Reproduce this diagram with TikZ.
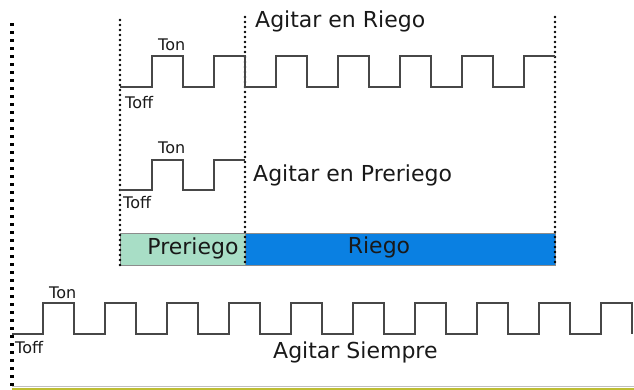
\documentclass[tikz,border=0pt]{standalone}
\usepackage{fontspec}
\setmainfont{DejaVu Sans}
\begin{document}
\begin{tikzpicture}[x=1pt,y=-1pt,
  wave/.style={line width=1.8pt,draw=black!72,line join=miter},
  bigdots/.style={line width=3.6pt,draw=black,dash pattern=on 3.2pt off 4.8pt},
  smalldots/.style={line width=2.8pt,draw=black,line cap=round,dash pattern=on 0pt off 5pt},
  phase/.style={draw=black!45,line width=0.8pt},
  big/.style={inner sep=0pt,font=\fontsize{22}{24}\selectfont,text=black!90},
  small/.style={inner sep=0pt,font=\fontsize{16}{18}\selectfont,text=black!90}]
\useasboundingbox (0,0) rectangle (634,389);
% phase boxes
\fill[fill={rgb,255:red,168;green,222;blue,198}] (120,233) rectangle (245,265);
\fill[fill={rgb,255:red,10;green,128;blue,226}] (245,233) rectangle (555,265);
\draw[phase] (120,233) rectangle (245,265);
\draw[phase] (245,233) rectangle (555,265);
\node[big,anchor=base] (pre) at (193,254) {Preriego};
\node[big,anchor=base] (rie) at (379,253) {Riego};
% dotted guides
\draw[bigdots] (12,23) -- (12,387);
\draw[smalldots] (120,20) -- (120,265);
\draw[smalldots] (245,17) -- (245,265);
\draw[smalldots] (555,17) -- (555,265);
% bottom line
\draw[line width=0.8pt,draw=black!25] (12,386) -- (634,386);
\draw[line width=2pt,draw={rgb,255:red,190;green,190;blue,50}] (12,388.5) -- (634,388.5);
% top wave
\draw[wave] (120,87) -- (152,87) -- (152,56) -- (183,56) -- (183,87) -- (214,87) -- (214,56) -- (245,56) -- (245,87)
  -- (276,87) -- (276,56) -- (307,56) -- (307,87) -- (338,87) -- (338,56) -- (369,56) -- (369,87) -- (400,87)
  -- (400,56) -- (431,56) -- (431,87) -- (462,87) -- (462,56) -- (493,56) -- (493,87) -- (524,87) -- (524,56) -- (555,56);
% second wave
\draw[wave] (120,190) -- (152,190) -- (152,160) -- (183,160) -- (183,190) -- (214,190) -- (214,160) -- (245,160);
% bottom wave
\draw[wave] (12,334) \foreach \k in {0,...,9} { -- ({43+62*\k},334) -- ({43+62*\k},303) -- ({74+62*\k},303) -- ({74+62*\k},334) };
% labels
\node[big,anchor=base west] (riego) at (255,27) {Agitar en Riego};
\node[big,anchor=base west] (preriego) at (253,181) {Agitar en Preriego};
\node[big,anchor=base west] (siempre) at (273,358) {Agitar Siempre};
\node[small,anchor=base west] (ton1) at (158,50) {Ton};
\node[small,anchor=base west] (toff1) at (125,108) {Toff};
\node[small,anchor=base west] (ton2) at (158,153) {Ton};
\node[small,anchor=base west] (toff2) at (123,208) {Toff};
\node[small,anchor=base west] (ton3) at (49,298) {Ton};
\node[small,anchor=base west] (toff3) at (15,353) {Toff};
\end{tikzpicture}
\end{document}
